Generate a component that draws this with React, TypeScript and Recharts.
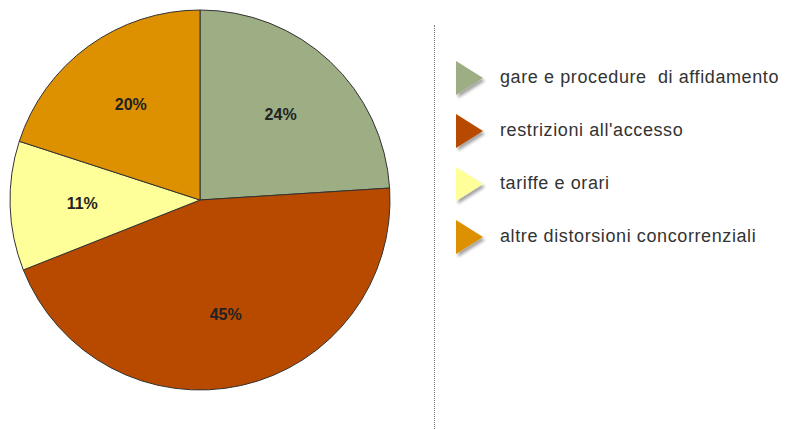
import { PieChart, Pie, Cell } from 'recharts';

// ── Data ────────────────────────────────────────────────────────────────
const categories = [
  'gare e procedure  di affidamento',
  "restrizioni all'accesso",
  'tariffe e orari',
  'altre distorsioni concorrenziali',
];
const shares = [24, 45, 11, 20];
const colors = ['#9dad84', '#b84a00', '#ffff99', '#dd9000'];

const data = categories.map((name, i) => ({ name, value: shares[i] }));

const RAD = Math.PI / 180;

// ── Percentage label inside each slice ──────────────────────────────────
// eslint-disable-next-line @typescript-eslint/no-explicit-any
const SliceLabel = ({ cx, cy, midAngle, outerRadius, value }: any) => {
  const r = outerRadius * 0.62;
  const x = cx + r * Math.cos(-midAngle * RAD);
  const y = cy + r * Math.sin(-midAngle * RAD);
  return (
    <text x={x} y={y} textAnchor="middle" dominantBaseline="central"
      style={{ fontFamily: 'Arial, "Liberation Sans", sans-serif', fontWeight: 700, fontSize: 16, fill: '#222' }}>
      {value}%
    </text>
  );
};

// ── Legend with triangle markers ────────────────────────────────────────
const Legend = () => (
  <div style={{ position: 'absolute', left: 455, top: 52 }}>
    <svg width={0} height={0} style={{ position: 'absolute' }}>
      <defs>
        <filter id="sh" x="-30%" y="-30%" width="180%" height="180%">
          <feDropShadow dx="2" dy="3" stdDeviation="1.5" floodColor="#000" floodOpacity="0.35" />
        </filter>
      </defs>
    </svg>
    {categories.map((c, i) => (
      <div key={c} style={{ display: 'flex', alignItems: 'center', height: 53 }}>
        <svg width={36} height={40} style={{ overflow: 'visible' }}>
          <polygon points="1,2 28,19 1,36" fill={colors[i]} filter="url(#sh)" />
        </svg>
        <span style={{ marginLeft: 9, marginTop: -3, fontFamily: 'Arial, "Liberation Sans", sans-serif', fontSize: 18, letterSpacing: 0.6, color: '#333', whiteSpace: 'pre' }}>
          {c}
        </span>
      </div>
    ))}
  </div>
);

export default function App() {
  return (
    <div style={{ position: 'absolute', left: 0, top: 0, width: 794, height: 429, background: '#fff', overflow: 'hidden' }}>
      <PieChart width={420} height={429} margin={{ top: 0, right: 0, bottom: 0, left: 0 }}>
        <Pie
          data={data}
          dataKey="value"
          cx={200}
          cy={200}
          outerRadius={190}
          startAngle={90}
          endAngle={-270}
          stroke="#333"
          strokeWidth={1}
          label={SliceLabel}
          labelLine={false}
          isAnimationActive={false}
        >
          {data.map((d, i) => <Cell key={d.name} fill={colors[i]} />)}
        </Pie>
      </PieChart>
      <div style={{ position: 'absolute', left: 434, top: 25, height: 404, borderLeft: '1px dotted #777' }} />
      <Legend />
    </div>
  );
}
